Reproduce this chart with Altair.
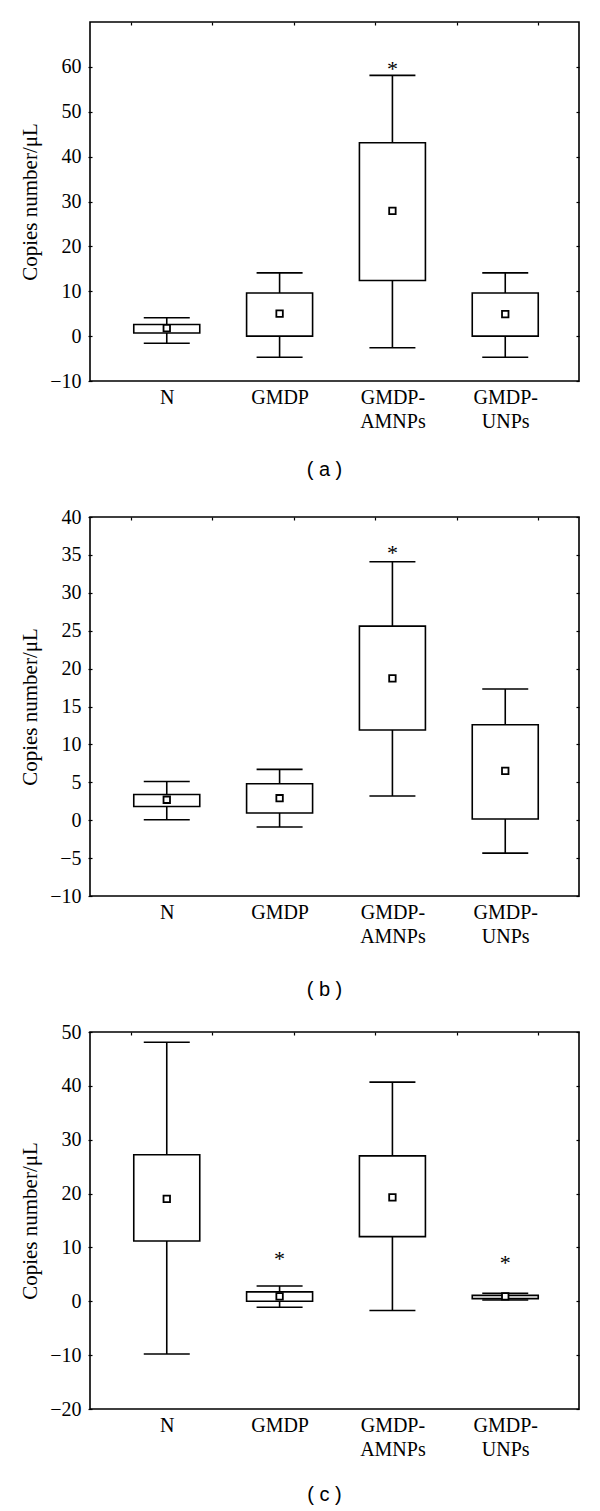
import altair as alt
import pandas as pd

categories = ["N", "GMDP", "GMDP-AMNPs", "GMDP-UNPs"]

# Panel (a)
a_whisker_low = [-1.6, -4.7, -2.6, -4.7]
a_box_low = [0.7, 0.0, 12.4, 0.0]
a_mean = [1.8, 5.0, 27.9, 4.9]
a_box_high = [2.6, 9.6, 43.1, 9.6]
a_whisker_high = [4.1, 14.1, 58.1, 14.1]
a_star_cats = ["GMDP-AMNPs"]
a_star_vals = [60.1]
a_ticks = [-10, 0, 10, 20, 30, 40, 50, 60]

# Panel (b)
b_whisker_low = [0.05, -0.9, 3.2, -4.35]
b_box_low = [1.8, 0.95, 11.9, 0.15]
b_mean = [2.7, 2.9, 18.7, 6.5]
b_box_high = [3.4, 4.8, 25.6, 12.6]
b_whisker_high = [5.1, 6.7, 34.1, 17.3]
b_star_cats = ["GMDP-AMNPs"]
b_star_vals = [35.7]
b_ticks = [-10, -5, 0, 5, 10, 15, 20, 25, 30, 35, 40]

# Panel (c)
c_whisker_low = [-9.8, -1.1, -1.7, 0.25]
c_box_low = [11.2, 0.0, 12.0, 0.5]
c_mean = [19.0, 0.9, 19.3, 0.9]
c_box_high = [27.2, 1.75, 27.0, 1.1]
c_whisker_high = [48.1, 2.85, 40.7, 1.5]
c_star_cats = ["GMDP", "GMDP-UNPs"]
c_star_vals = [8.4, 7.6]
c_ticks = [-20, -10, 0, 10, 20, 30, 40, 50]

frame_ticks = [0.5, 1.5, 2.5, 3.5, 4.5, 5.5]

SERIF = "Liberation Serif"
SANS = "Liberation Sans"
LW = 1.6
W = 489

label_expr = ("indexof(datum.label, '-') > 0 ? "
              "[slice(datum.label, 0, indexof(datum.label, '-') + 1), "
              "slice(datum.label, indexof(datum.label, '-') + 1)] : datum.label")


def panel(wl, bl, m, bh, wh, star_cats, star_vals, domain, ticks, h, tag, tag_y):
    df = pd.DataFrame({"cat": categories, "wl": wl, "bl": bl, "m": m, "bh": bh, "wh": wh})
    stars = pd.DataFrame({"cat": star_cats, "v": star_vals})
    xs = alt.Scale(type="point", domain=categories, padding=0.667, align=0.51)
    ys = alt.Scale(domain=domain, nice=False, zero=False)

    x_axis = alt.Axis(orient="bottom", ticks=False, tickSize=0, domain=False, grid=False,
                      labelPadding=6, labelAngle=0, labelFont=SERIF, labelFontSize=20,
                      labelColor="black", labelLineHeight=24, labelExpr=label_expr,
                      labelBaseline="top", labelAlign="center",
                      title=tag, titleFont=SANS, titleFontSize=20, titleFontWeight="normal",
                      titleColor="black", titleX=234, titleY=tag_y, titleBaseline="middle",
                      titleAlign="center")
    y_axis = alt.Axis(orient="left", values=ticks, offset=-2, tickSize=4, tickColor="black",
                      tickWidth=1.2, domain=False, grid=False, labelPadding=7, labelFont=SERIF,
                      labelFontSize=20, labelColor="black",
                      title="Copies number/μL", titleFont=SERIF, titleFontSize=21,
                      titleFontWeight="normal", titleColor="black", titleX=-62, titleY=h / 2,
                      titleAngle=270, titleBaseline="middle", titleAlign="center")

    X = alt.X("cat:N", scale=xs, sort=categories, axis=None)
    base = alt.Chart(df)

    whisk = base.mark_rule(color="black", strokeWidth=LW).encode(
        x=alt.X("cat:N", scale=xs, sort=categories, axis=x_axis),
        y=alt.Y("wl:Q", scale=ys, axis=y_axis),
        y2="wh:Q",
    )
    cap_lo = base.mark_tick(color="black", size=46, thickness=LW, opacity=1).encode(
        x=X, y=alt.Y("wl:Q", scale=ys, axis=None))
    cap_hi = base.mark_tick(color="black", size=46, thickness=LW, opacity=1).encode(
        x=X, y=alt.Y("wh:Q", scale=ys, axis=None))
    box = base.mark_bar(size=66, fill="white", stroke="black", strokeWidth=LW, opacity=1).encode(
        x=X, y=alt.Y("bl:Q", scale=ys, axis=None), y2="bh:Q")
    mean = base.mark_square(size=42, color="white", stroke="black", strokeWidth=1.8, opacity=1).encode(
        x=X, y=alt.Y("m:Q", scale=ys, axis=None))
    star = alt.Chart(stars).mark_text(text="*", font=SERIF, fontSize=22, color="black",
                                      baseline="alphabetic", dy=10).encode(
        x=X, y=alt.Y("v:Q", scale=ys, axis=None))
    top = alt.Chart(pd.DataFrame({"t": frame_ticks})).mark_point(opacity=0).encode(
        x=alt.X("t:Q", scale=alt.Scale(domain=[0, 6], nice=False, zero=False),
                axis=alt.Axis(orient="top", values=frame_ticks, labels=False, domain=False,
                              grid=False, tickSize=3, offset=-3, tickColor="black",
                              tickWidth=1.2, title=None)))
    right = alt.Chart(pd.DataFrame({"v": ticks})).mark_point(opacity=0).encode(
        y=alt.Y("v:Q", scale=ys,
                axis=alt.Axis(orient="right", values=ticks, labels=False, domain=False,
                              grid=False, tickSize=3, offset=-3, tickColor="black",
                              tickWidth=1.2, title=None)))
    return alt.layer(whisk, cap_lo, cap_hi, box, mean, star, top, right).resolve_scale(
        x="independent", y="independent").properties(
        width=W, height=h,
        view=alt.ViewBackground(stroke="black", strokeWidth=LW, fill="white"))


pa = panel(a_whisker_low, a_box_low, a_mean, a_box_high, a_whisker_high,
           a_star_cats, a_star_vals, [-10, 70], a_ticks, 359, "( a )", 88)
pb = panel(b_whisker_low, b_box_low, b_mean, b_box_high, b_whisker_high,
           b_star_cats, b_star_vals, [-10, 40], b_ticks, 379, "( b )", 93)
pc = panel(c_whisker_low, c_box_low, c_mean, c_box_high, c_whisker_high,
           c_star_cats, c_star_vals, [-20, 50], c_ticks, 377, "( c )", 85)

chart = alt.vconcat(pa, pb, pc, spacing=136, bounds="flush").properties(
    padding={"left": 10, "top": 12, "right": 5, "bottom": 5}
).configure_view(stroke="black", strokeWidth=LW).configure(background="white")

chart.save("out.html", embed_options={"renderer": "svg", "actions": False})
